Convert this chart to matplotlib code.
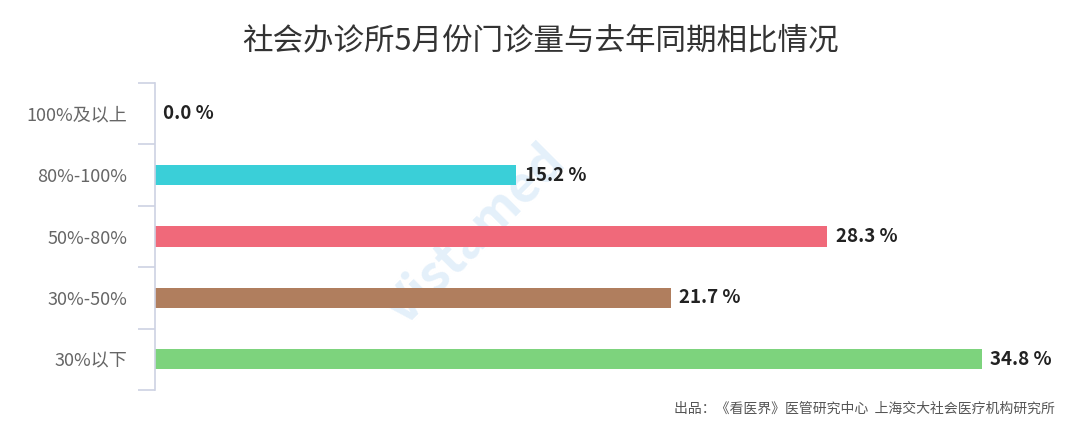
import matplotlib.pyplot as plt

plt.rcParams['font.family'] = ['Noto Sans CJK SC', 'DejaVu Sans']

# 数据
categories = ['100%及以上', '80%-100%', '50%-80%', '30%-50%', '30%以下']
values = [0.0, 15.2, 28.3, 21.7, 34.8]
colors = ['#3ACFD8', '#3ACFD8', '#F0697A', '#B07E5E', '#7DD37D']

fig = plt.figure(figsize=(10.8, 4.33), dpi=100)
ax = fig.add_axes([155 / 1080, 43 / 433, 903 / 1080, 307 / 433])
ax.patch.set_alpha(0)

y = range(len(categories))
ax.barh(y, values, height=0.33, color=colors, zorder=2)
ax.set_ylim(-0.5, len(categories) - 0.5)
ax.invert_yaxis()
ax.set_xlim(0, 38)

# 数值标签
for i, v in enumerate(values):
    ax.text(v + 0.35, i, f'{v:.1f} %', va='center', ha='left',
            fontsize=13.5, fontweight='bold', color='#222222', zorder=3)

# 坐标轴样式
for s in ['top', 'right', 'bottom']:
    ax.spines[s].set_visible(False)
ax.spines['left'].set_color('#CDD2E3')
ax.spines['left'].set_linewidth(1.2)
ax.set_xticks([])
ax.set_yticks(list(y))
ax.set_yticklabels(categories, fontsize=13, color='#666666')
ax.tick_params(axis='y', which='major', length=0, pad=20)
ax.set_yticks([i - 0.5 for i in range(len(categories) + 1)], minor=True)
ax.tick_params(axis='y', which='minor', length=12, color='#CDD2E3', width=1.2)

# 水印
ax.text(13.5, 2.0, 'Vistamed', rotation=45, fontsize=36, fontweight='bold',
        color='#E4F0FA', ha='center', va='center', zorder=0)

# 标题和来源
fig.text(0.5, 0.905, '社会办诊所5月份门诊量与去年同期相比情况', ha='center', va='center',
         fontsize=22, color='#333333')
fig.text(0.977, 0.055, '出品：《看医界》医管研究中心  上海交大社会医疗机构研究所',
         ha='right', va='center', fontsize=10, color='#555555')

fig.savefig('out.png', dpi=100)
